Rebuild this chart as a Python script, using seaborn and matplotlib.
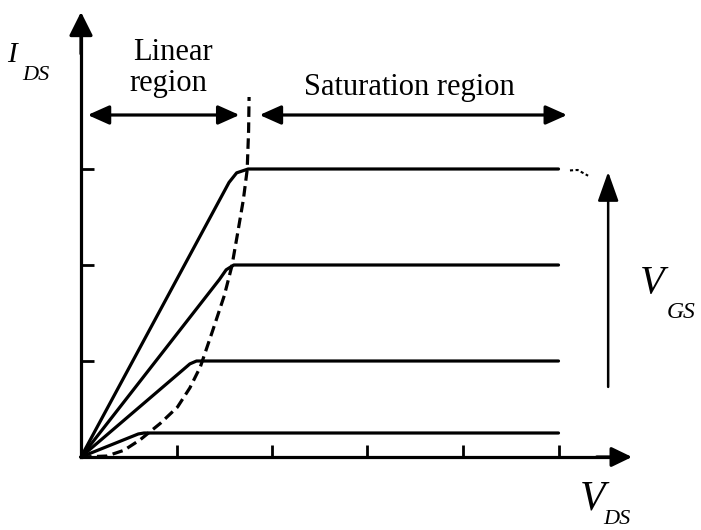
import matplotlib
matplotlib.use("Agg")
import matplotlib.pyplot as plt
import seaborn as sns
import numpy as np
import pandas as pd

# ---- data (axis units: one tick = 1) ----
vds_top = [0.0, 1.55, 1.63, 1.75, 5.0]
ids_top = [0.0, 2.86, 2.96, 3.0, 3.0]

vds_2 = [0.0, 1.45, 1.52, 1.60, 5.0]
ids_2 = [0.0, 1.85, 1.95, 2.0, 2.0]

vds_3 = [0.0, 1.07, 1.14, 1.21, 5.0]
ids_3 = [0.0, 0.91, 0.97, 1.0, 1.0]

vds_4 = [0.0, 0.60, 0.66, 5.0]
ids_4 = [0.0, 0.24, 0.25, 0.25]

vds_sat = [0.0, 0.27, 0.45, 0.62, 0.83, 1.01, 1.14, 1.25, 1.38, 1.50, 1.58, 1.64, 1.70, 1.74, 1.755, 1.76]
ids_sat = [0.0, 0.01, 0.07, 0.18, 0.35, 0.52, 0.72, 0.94, 1.32, 1.68, 1.99, 2.33, 2.68, 2.99, 3.40, 3.75]

x_ticks = [1, 2, 3, 4, 5]
y_ticks = [1, 2, 3]

W, H = 701, 530

sns.set_theme(style="white")
plt.rcParams["font.family"] = ["Liberation Serif", "DejaVu Serif"]

fig = plt.figure(figsize=(W / 100, H / 100), dpi=100)
ax = fig.add_axes([0, 0, 1, 1])
ux, uy = 95.5, 96.0
ox, oy = 81, 457
ax.set_xlim(-ox / ux, (W - ox) / ux)
ax.set_ylim((oy - H) / uy, oy / uy)

LW = 2.3
for xs, ys in [(vds_top, ids_top), (vds_2, ids_2), (vds_3, ids_3), (vds_4, ids_4)]:
    sns.lineplot(x=xs, y=ys, ax=ax, color="black", lw=LW, sort=False, estimator=None)
sns.lineplot(x=vds_sat, y=ids_sat, ax=ax, color="black", lw=LW, sort=False, estimator=None)
ax.lines[-1].set_linestyle((0, (3.3, 1.7)))

# axes (spines through the origin)
for s in ["top", "right"]:
    ax.spines[s].set_visible(False)
ax.spines["left"].set_position(("data", 0))
ax.spines["bottom"].set_position(("data", 0))
ax.spines["left"].set_bounds(0, 4.4)
ax.spines["bottom"].set_bounds(0, 5.6)
for s in ["left", "bottom"]:
    ax.spines[s].set_linewidth(LW)
    ax.spines[s].set_color("black")
ax.set_xticks(x_ticks)
ax.set_yticks(y_ticks)
ax.tick_params(direction="in", length=9, width=2, color="black",
               labelbottom=False, labelleft=False, bottom=True, left=True)
ax.set_xlabel("")
ax.set_ylabel("")
ax.grid(False)

y_tip = (oy - 12) / uy
x_tip = (632 - ox) / ux
ax.annotate("", xy=(0, y_tip), xytext=(0, 4.2),
            arrowprops=dict(arrowstyle="-|>,head_length=0.72,head_width=0.36",
                            lw=LW, color="black", shrinkA=0, shrinkB=0, mutation_scale=20))
ax.annotate("", xy=(x_tip, 0), xytext=(5.4, 0),
            arrowprops=dict(arrowstyle="-|>,head_length=0.62,head_width=0.3",
                            lw=LW, color="black", shrinkA=0, shrinkB=0, mutation_scale=20))

# region arrows
y_reg = (oy - 115) / uy
ax.annotate("", xy=(1.66, y_reg), xytext=(0.07, y_reg),
            arrowprops=dict(arrowstyle="<|-|>,head_length=0.65,head_width=0.29",
                            lw=LW, color="black", shrinkA=0, shrinkB=0, mutation_scale=20))
ax.annotate("", xy=(5.09, y_reg), xytext=(1.87, y_reg),
            arrowprops=dict(arrowstyle="<|-|>,head_length=0.65,head_width=0.29",
                            lw=LW, color="black", shrinkA=0, shrinkB=0, mutation_scale=20))

# VGS arrow
ax.annotate("", xy=(5.52, 2.97), xytext=(5.52, 0.73),
            arrowprops=dict(arrowstyle="-|>,head_length=0.9,head_width=0.32",
                            lw=1.8, color="black", shrinkA=0, shrinkB=0, mutation_scale=20))

# small scan mark
ax.plot([5.12, 5.2, 5.31], [2.985, 2.99, 2.93], color="black", lw=1.5, ls=(0, (1.5, 1.2)))

def ftxt(px, py, s, size, style="normal", ha="left", va="baseline"):
    fig.text(px / W, 1 - py / H, s, fontsize=size, style=style, ha=ha, va=va,
             family=["Liberation Serif", "DejaVu Serif"], color="black")

ftxt(7, 62, "I", 21, "italic")
ftxt(22, 80, "DS", 16, "italic")
ftxt(173, 60, "Linear", 22, ha="center")
ftxt(168, 91, "region", 22, ha="center")
ftxt(409, 95, "Saturation region", 22, ha="center")
ftxt(640, 293, "V", 29, "italic")
ftxt(667, 318, "GS", 17, "italic")
ftxt(580, 510, "V", 30, "italic")
ftxt(603, 529, "DS", 16, "italic", va="bottom")

fig.savefig("out.png", dpi=100, facecolor="white")
